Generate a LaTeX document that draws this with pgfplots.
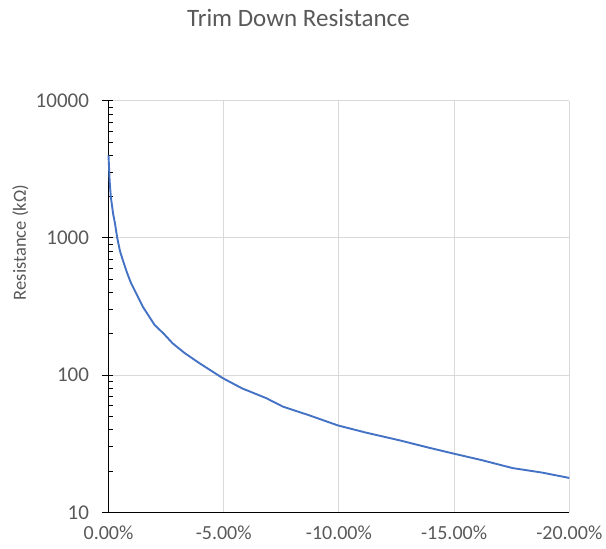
\documentclass[border=0pt]{standalone}
\usepackage{pgfplots}
\pgfplotsset{compat=1.18}
\usepackage{fontspec}
\setmainfont{Carlito}
\definecolor{txtgray}{HTML}{595959}
\definecolor{gridgray}{HTML}{D9D9D9}
\definecolor{exblue}{HTML}{4472C4}
\begin{document}
\begin{tikzpicture}
\path[use as bounding box] (-108.5pt,-36.7pt) rectangle (497.5pt,512.3pt);
\begin{axis}[
   at={(0pt,0pt)}, anchor=south west,
   scale only axis,
   width=460.8pt, height=411.6pt,
   ymode=log,
   xmin=-20, xmax=0, x dir=reverse,
   ymin=10, ymax=10000,
   axis x line*=bottom, axis y line*=left,
   axis line style={black, line width=0.8pt},
   xtick={0,-5,-10,-15,-20},
   xticklabels={0.00\%,-5.00\%,-10.00\%,-15.00\%,-20.00\%},
   xtick style={draw=none},
   ytick={10,100,1000,10000},
   yticklabels={10,100,1000,10000},
   tick align=inside,
   major tick length=4.5pt, minor tick length=4.5pt,
   ytick style={black, line width=0.8pt},
   minor tick style={black, line width=0.6pt},
   extra y ticks={10,100,1000,10000},
   extra y tick labels={},
   extra y tick style={tick align=outside, major tick length=6.5pt, grid=none},
   grid=major,
   major grid style={gridgray, line width=0.9pt},
   xticklabel style={font=\fontsize{20}{24}\selectfont, text=txtgray, inner sep=1pt, yshift=-12pt},
   yticklabel style={font=\fontsize{21}{25}\selectfont, text=txtgray, xshift=-16pt},
   title={Trim Down Resistance},
   title style={at={(rel axis cs:0.4123,1.1863)}, anchor=center, font=\fontsize{25}{30}\selectfont, text=txtgray},
   ylabel={Resistance (kΩ)},
   ylabel style={at={(rel axis cs:-0.191,0.6555)}, anchor=center, font=\fontsize{18.5}{22}\selectfont, text=txtgray},
   clip=false,
]
\addplot[exblue, line width=1.9pt] coordinates {
(0,4000) (-0.05,2600) (-0.1,2000) (-0.2,1500) (-0.28,1280) (-0.38,1000)
(-0.5,800) (-0.62,690) (-0.8,560) (-0.98,467) (-1.25,380) (-1.49,315)
(-2.0,232) (-2.4,200) (-2.79,170) (-3.3,145) (-3.95,122) (-4.96,95)
(-5.8,80) (-6.84,68) (-7.56,59) (-8.7,51) (-9.95,43) (-11.2,38)
(-12.62,33.5) (-13.93,29.5) (-14.97,26.8) (-16.2,24) (-17.54,21)
(-18.8,19.5) (-20,17.8)
};
\end{axis}
\end{tikzpicture}
\end{document}
